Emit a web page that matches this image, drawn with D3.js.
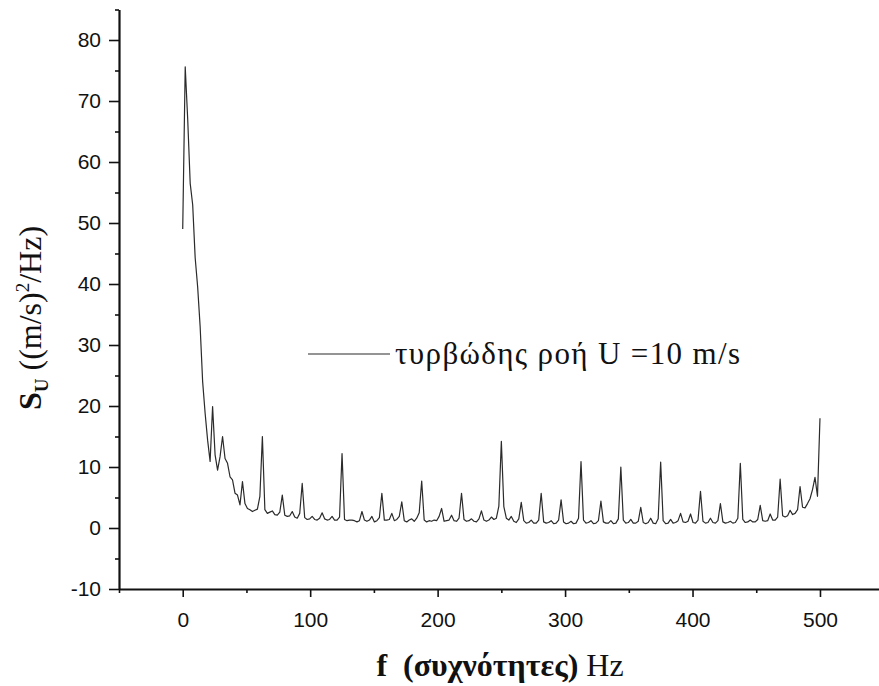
<!DOCTYPE html>
<html>
<head>
<meta charset="utf-8">
<script src="https://cdn.jsdelivr.net/npm/d3@7"></script>
<style>
  html, body { margin: 0; padding: 0; background: #fff; }
  svg { display: block; }
</style>
</head>
<body>
<div id="chart"></div>
<script>
// spectrum bins: 0 .. 500 Hz, fs = 1000 Hz, nfft = 512
const sampleRate = 1000;
const fftSize = 512;
const spectrum = [
  49, 75.6, 67, 56.5, 53, 44.3, 39.5, 33, 24, 18.8,
  14.4, 10.9, 19.9, 12, 9.5, 11.7, 15, 11.4, 10.6, 8.4,
  7.9, 5.7, 5.4, 3.8, 7.6, 4.0, 3.2, 3.0, 2.7, 2.9,
  3.1, 5.2, 15.0, 3.0, 2.4, 2.6, 2.8, 2.2, 2.1, 2.6,
  5.4, 2.1, 1.9, 2.0, 2.7, 1.8, 1.6, 2.4, 7.3, 1.7,
  1.4, 1.5, 1.9, 1.4, 1.3, 1.6, 2.5, 1.5, 1.3, 1.4,
  1.9, 1.3, 1.3, 1.8, 12.2, 1.4, 1.2, 1.3, 1.3, 1.2,
  1.0, 1.2, 2.7, 1.3, 1.1, 1.3, 1.9, 1.0, 1.2, 1.7,
  5.7, 1.3, 1.3, 1.4, 2.4, 1.2, 1.4, 1.9, 4.3, 1.2,
  1.0, 1.3, 1.5, 1.1, 1.6, 2.5, 7.7, 1.3, 1.0, 1.2,
  1.1, 1.3, 1.2, 1.9, 3.2, 1.1, 1.2, 1.3, 2.1, 1.2,
  1.1, 1.6, 5.7, 1.4, 1.1, 1.2, 1.5, 1.1, 1.0, 1.5,
  2.8, 1.3, 1.1, 1.3, 1.8, 1.4, 1.6, 3.6, 14.2, 3.5,
  1.6, 1.3, 1.9, 1.1, 0.9, 1.5, 4.2, 1.2, 0.8, 0.9,
  1.3, 0.8, 0.8, 1.3, 5.7, 1.0, 0.8, 0.9, 1.2, 0.7,
  0.8, 1.3, 4.6, 1.0, 0.7, 0.8, 1.1, 0.7, 0.8, 1.6,
  10.9, 1.3, 0.8, 0.9, 1.2, 0.7, 0.8, 1.2, 4.4, 1.0,
  0.8, 0.8, 1.2, 0.7, 0.8, 1.5, 10.0, 1.3, 0.8, 0.9,
  1.4, 0.8, 0.8, 1.1, 3.4, 0.9, 0.7, 0.9, 1.6, 0.8,
  0.7, 1.5, 10.8, 1.2, 0.7, 0.8, 1.4, 0.8, 0.9, 1.2,
  2.4, 1.0, 0.9, 1.1, 2.3, 0.9, 0.8, 1.3, 6.0, 1.1,
  0.8, 0.9, 1.6, 0.9, 0.8, 1.2, 4.0, 1.0, 0.8, 0.9,
  1.1, 0.8, 0.9, 1.6, 10.6, 1.4, 0.9, 1.0, 1.3, 1.0,
  1.0, 1.4, 3.7, 1.2, 1.1, 1.2, 2.3, 1.3, 1.3, 1.8,
  8.0, 2.0, 1.8, 2.0, 2.9, 2.2, 2.4, 3.0, 6.8, 3.4,
  3.3, 4.0, 4.8, 6.3, 8.3, 5.2, 18.0
];

const xTicks = [0, 100, 200, 300, 400, 500];
const xMinorTicks = [-50, 50, 150, 250, 350, 450, 550];
const yTicks = [-10, 0, 10, 20, 30, 40, 50, 60, 70, 80];
const yMinorTicks = [-5, 5, 15, 25, 35, 45, 55, 65, 75, 85];

const legendLabel = 'τυρβώδης ροή U =10 m/s';

const specs = {
  width: 879,
  height: 686,
  left: 119,
  right: 883.7,
  top: 9.5,
  bottom: 589,
};

const freqs = spectrum.map((d, i) => i * sampleRate / fftSize);

const svg = d3.select('#chart')
  .append('svg')
  .attr('width', specs.width)
  .attr('height', specs.height)
  .attr('viewBox', `0 0 ${specs.width} ${specs.height}`);

const x = d3.scaleLinear().domain([-50, 550]).range([specs.left, specs.right]);
const y = d3.scaleLinear().domain([-10, 85]).range([specs.bottom, specs.top]);

// minor ticks first, no labels
svg.append('g')
  .attr('transform', `translate(0,${specs.bottom})`)
  .call(d3.axisBottom(x).tickValues(xMinorTicks).tickSize(4).tickSizeOuter(0).tickFormat(''))
  .call(g => g.select('.domain').remove());

svg.append('g')
  .attr('transform', `translate(${specs.left},0)`)
  .call(d3.axisLeft(y).tickValues(yMinorTicks).tickSize(4).tickSizeOuter(0).tickFormat(''))
  .call(g => g.select('.domain').remove());

svg.append('g')
  .attr('class', 'axis axis--x')
  .attr('transform', `translate(0,${specs.bottom})`)
  .call(d3.axisBottom(x).tickValues(xTicks).tickSize(8).tickSizeOuter(0).tickPadding(15)
    .tickFormat(d => String(d)));

svg.append('g')
  .attr('class', 'axis axis--y')
  .attr('transform', `translate(${specs.left},0)`)
  .call(d3.axisLeft(y).tickValues(yTicks).tickSize(10).tickSizeOuter(0).tickPadding(8)
    .tickFormat(d => String(d)));

svg.selectAll('.tick line').attr('stroke', '#111').attr('stroke-width', 1.6);
svg.selectAll('.domain').attr('stroke', '#111').attr('stroke-width', 2.2);
svg.selectAll('.axis text')
  .attr('font-family', '"Liberation Sans", Arial, sans-serif')
  .attr('font-size', 21)
  .attr('fill', '#111');

// spectrum line
const line = d3.line()
  .x((d, i) => x(freqs[i]))
  .y(d => y(d));

svg.append('path')
  .datum(spectrum)
  .attr('fill', 'none')
  .attr('stroke', '#2b2b2b')
  .attr('stroke-width', 1.2)
  .attr('stroke-linejoin', 'round')
  .attr('d', line);

// legend
svg.append('line')
  .attr('x1', 308).attr('x2', 390)
  .attr('y1', 354).attr('y2', 354)
  .attr('stroke', '#2b2b2b')
  .attr('stroke-width', 1.2);

svg.append('text')
  .attr('x', 395)
  .attr('y', 364)
  .attr('font-family', '"Liberation Serif", "Times New Roman", serif')
  .attr('font-size', 31)
  .attr('fill', '#111')
  .attr('textLength', 345)
  .attr('lengthAdjust', 'spacing')
  .text(legendLabel);

// x label
const xLabel = svg.append('text')
  .attr('x', 500)
  .attr('y', 676)
  .attr('text-anchor', 'middle')
  .attr('font-family', '"Liberation Serif", "Times New Roman", serif')
  .attr('font-size', 32)
  .attr('fill', '#111')
  .style('white-space', 'pre');
xLabel.append('tspan').attr('font-weight', 'bold').text('f  (συχνότητες)');
xLabel.append('tspan').text(' Hz');

// y label
const yLabel = svg.append('text')
  .attr('transform', 'translate(41,318) rotate(-90)')
  .attr('text-anchor', 'middle')
  .attr('font-family', '"Liberation Serif", "Times New Roman", serif')
  .attr('font-size', 32)
  .attr('fill', '#111');
yLabel.append('tspan').attr('font-weight', 'bold').text('S');
yLabel.append('tspan').attr('font-weight', 'bold').attr('font-size', 19).attr('dy', 7).text('U');
yLabel.append('tspan').attr('dy', -7).text(' ((m/s)');
yLabel.append('tspan').attr('font-size', 19).attr('dy', -12).text('2');
yLabel.append('tspan').attr('dy', 12).text('/Hz)');
</script>
</body>
</html>
